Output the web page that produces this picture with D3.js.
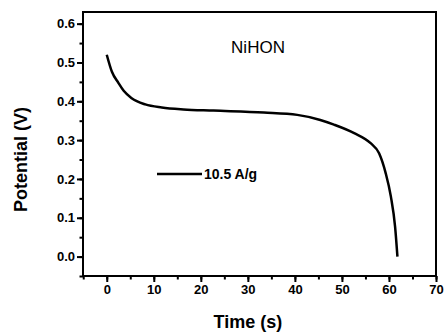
<!DOCTYPE html>
<html>
<head>
<meta charset="utf-8">
<script src="https://cdn.jsdelivr.net/npm/d3@7"></script>
<style>
  body { margin: 0; background: #fff; }
  svg { display: block; font-family: "Liberation Sans", Arial, sans-serif; }
</style>
</head>
<body>
<svg id="chart" width="446" height="335"></svg>
<script>
// discharge curve
var timeValues = [0, 1.1, 2.5, 3.6, 5.3, 8.2, 11.7, 16.3, 22.7, 33.4, 40.5, 45.4, 48.3, 52.6, 56.1, 57.9, 59.3, 60.4, 61.3, 61.8];
var potentialValues = [0.52, 0.476, 0.447, 0.427, 0.408, 0.392, 0.384, 0.379, 0.376, 0.371, 0.365, 0.352, 0.34, 0.318, 0.292, 0.266, 0.215, 0.155, 0.077, 0.0];
var xTicks = [0, 10, 20, 30, 40, 50, 60, 70];
var yTicks = [0.0, 0.1, 0.2, 0.3, 0.4, 0.5, 0.6];
var seriesLabel = "10.5 A/g";
var sampleName = "NiHON";

var data = timeValues.map(function (t, i) {
    return { t: t, v: potentialValues[i] };
});

// frame of the plot area
var margin = { top: 12, right: 10, bottom: 59, left: 83 };
var width = 446 - margin.left - margin.right;
var height = 335 - margin.top - margin.bottom;

var x = d3.scaleLinear().domain([-5.05, 70]).range([0, width]);
var y = d3.scaleLinear().domain([-0.05, 0.63]).range([height, 0]);

var svg = d3.select("#chart");
var g = svg.append("g")
    .attr("transform", "translate(" + margin.left + "," + margin.top + ")");

// minor ticks every 5 s / 0.05 V
var xMinor = d3.range(-5, 70.01, 5);
var yMinor = d3.range(-0.05, 0.63, 0.05);

function styleAxis(a) {
    a.select(".domain").remove();
    a.selectAll("line").attr("stroke", "#000").attr("stroke-width", 2);
    a.selectAll("text")
        .attr("fill", "#000")
        .style("font-size", "13px")
        .style("font-weight", "bold");
}

g.append("g")
    .attr("transform", "translate(0," + height + ")")
    .call(d3.axisBottom(x).tickValues(xMinor).tickSize(3.5).tickFormat(""))
    .call(styleAxis);

g.append("g")
    .call(d3.axisLeft(y).tickValues(yMinor).tickSize(3.5).tickFormat(""))
    .call(styleAxis);

g.append("g")
    .attr("transform", "translate(0," + height + ")")
    .call(d3.axisBottom(x).tickValues(xTicks).tickSize(6).tickPadding(3).tickFormat(d3.format("d")))
    .call(styleAxis);

g.append("g")
    .call(d3.axisLeft(y).tickValues(yTicks).tickSize(6).tickPadding(2).tickFormat(d3.format(".1f")))
    .call(styleAxis);

// plot frame
g.append("rect")
    .attr("width", width)
    .attr("height", height)
    .attr("fill", "none")
    .attr("stroke", "#000")
    .attr("stroke-width", 2);

// curve
var line = d3.line()
    .x(function (d) { return x(d.t); })
    .y(function (d) { return y(d.v); })
    .curve(d3.curveMonotoneX);

g.append("path")
    .datum(data)
    .attr("fill", "none")
    .attr("stroke", "#000")
    .attr("stroke-width", 2.5)
    .attr("d", line);

// legend
g.append("line")
    .attr("x1", 74).attr("x2", 119)
    .attr("y1", 162).attr("y2", 162)
    .attr("stroke", "#000")
    .attr("stroke-width", 2.5);

g.append("text")
    .attr("x", 121).attr("y", 167)
    .attr("font-size", 14)
    .attr("font-weight", "bold")
    .text(seriesLabel);

g.append("text")
    .attr("x", 175).attr("y", 41)
    .attr("text-anchor", "middle")
    .attr("font-size", 17)
    .text(sampleName);

// axis titles
svg.append("text")
    .attr("x", margin.left + x(30))
    .attr("y", 328)
    .attr("text-anchor", "middle")
    .attr("font-size", 18)
    .attr("font-weight", "bold")
    .text("Time (s)");

svg.append("text")
    .attr("transform", "translate(27," + (margin.top + y(0.25)) + ") rotate(-90)")
    .attr("text-anchor", "middle")
    .attr("font-size", 18)
    .attr("font-weight", "bold")
    .text("Potential (V)");
</script>
</body>
</html>
